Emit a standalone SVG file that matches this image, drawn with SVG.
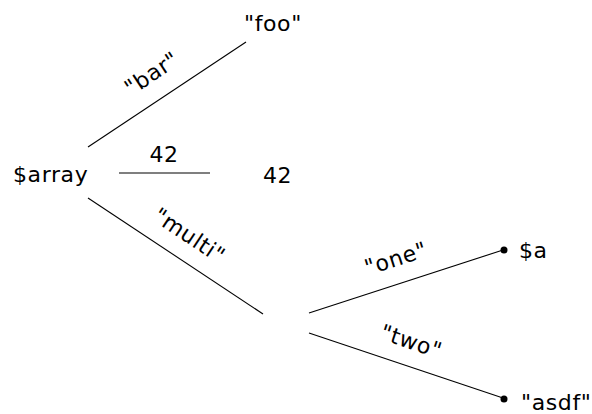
<svg xmlns="http://www.w3.org/2000/svg" width="592" height="414" viewBox="0 0 592 414">
  <style>
    text { font-family: "DejaVu Sans", "Liberation Sans", sans-serif; font-size: 22px; letter-spacing: 0.6px; fill: #000; }
    .lbl { text-anchor: middle; }
    .edge { stroke: #000; stroke-width: 1.1; fill: none; }
    .dot { fill: #000; }
  </style>
  <rect width="592" height="414" fill="#fff"/>

  <g id="connectors">
    <line class="edge" x1="88" y1="147" x2="246" y2="42"/>
    <line class="edge" x1="119" y1="173" x2="210" y2="173" stroke="#555" stroke-width="1.4"/>
    <line class="edge" x1="88" y1="198" x2="263" y2="314"/>
    <line class="edge" x1="309" y1="313" x2="503" y2="250"/>
    <line class="edge" x1="309" y1="333" x2="503" y2="398"/>
    <circle class="dot" cx="504" cy="250" r="3.5"/>
    <circle class="dot" cx="504" cy="399" r="3.5"/>
    <text class="lbl" transform="translate(152,74) rotate(-33.6)" y="7">"bar"</text>
    <text class="lbl" x="164" y="162">42</text>
    <text class="lbl" transform="translate(189,236) rotate(33.7)" y="7">"multi"</text>
    <text class="lbl" transform="translate(396,259) rotate(-17.7)" y="7">"one"</text>
    <text class="lbl" transform="translate(411,342) rotate(18.5)" y="7">"two"</text>
  </g>

  <g id="node-array"><text x="13" y="182">$array</text></g>
  <g id="node-foo"><text x="244" y="31">"foo"</text></g>
  <g id="node-42"><text x="263" y="183">42</text></g>
  <g id="node-mid"/>
  <g id="node-a"><text x="519" y="258">$a</text></g>
  <g id="node-asdf"><text x="521" y="410">"asdf"</text></g>
</svg>
